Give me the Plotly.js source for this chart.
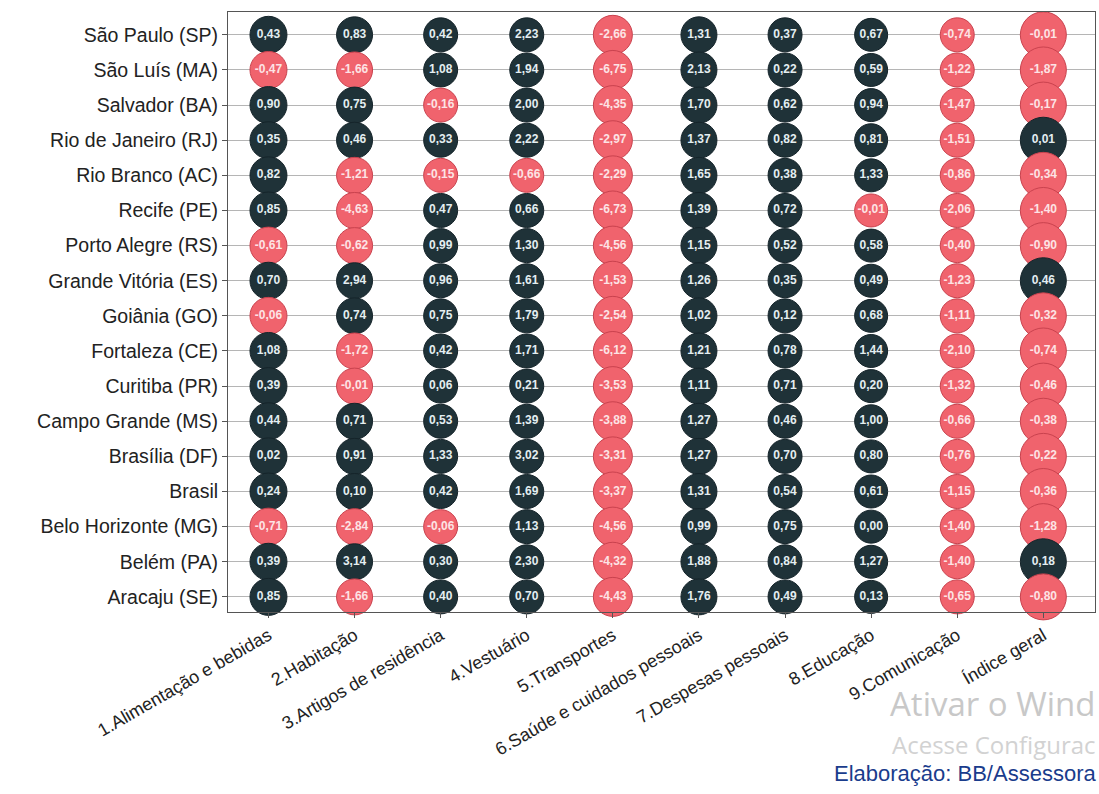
<!DOCTYPE html>
<html>
<head>
<meta charset="utf-8">
<script src="https://cdn.plot.ly/plotly-3.0.1.min.js"></script>
<style>html,body{margin:0;padding:0;background:#fff;}</style>
</head>
<body>
<div id="chart" style="width:1099px;height:794px;"></div>
<script>
const cities = ["São Paulo (SP)","São Luís (MA)","Salvador (BA)","Rio de Janeiro (RJ)","Rio Branco (AC)","Recife (PE)","Porto Alegre (RS)","Grande Vitória (ES)","Goiânia (GO)","Fortaleza (CE)","Curitiba (PR)","Campo Grande (MS)","Brasília (DF)","Brasil","Belo Horizonte (MG)","Belém (PA)","Aracaju (SE)"];
const groups = ["1.Alimentação e bebidas","2.Habitação","3.Artigos de residência","4.Vestuário","5.Transportes","6.Saúde e cuidados pessoais","7.Despesas pessoais","8.Educação","9.Comunicação","Índice geral"];

const alimentacao = [0.43,-0.47,0.90,0.35,0.82,0.85,-0.61,0.70,-0.06,1.08,0.39,0.44,0.02,0.24,-0.71,0.39,0.85];
const habitacao   = [0.83,-1.66,0.75,0.46,-1.21,-4.63,-0.62,2.94,0.74,-1.72,-0.01,0.71,0.91,0.10,-2.84,3.14,-1.66];
const artigos     = [0.42,1.08,-0.16,0.33,-0.15,0.47,0.99,0.96,0.75,0.42,0.06,0.53,1.33,0.42,-0.06,0.30,0.40];
const vestuario   = [2.23,1.94,2.00,2.22,-0.66,0.66,1.30,1.61,1.79,1.71,0.21,1.39,3.02,1.69,1.13,2.30,0.70];
const transportes = [-2.66,-6.75,-4.35,-2.97,-2.29,-6.73,-4.56,-1.53,-2.54,-6.12,-3.53,-3.88,-3.31,-3.37,-4.56,-4.32,-4.43];
const saude       = [1.31,2.13,1.70,1.37,1.65,1.39,1.15,1.26,1.02,1.21,1.11,1.27,1.27,1.31,0.99,1.88,1.76];
const despesas    = [0.37,0.22,0.62,0.82,0.38,0.72,0.52,0.35,0.12,0.78,0.71,0.46,0.70,0.54,0.75,0.84,0.49];
const educacao    = [0.67,0.59,0.94,0.81,1.33,-0.01,0.58,0.49,0.68,1.44,0.20,1.00,0.80,0.61,0.00,1.27,0.13];
const comunicacao = [-0.74,-1.22,-1.47,-1.51,-0.86,-2.06,-0.40,-1.23,-1.11,-2.10,-1.32,-0.66,-0.76,-1.15,-1.40,-1.40,-0.65];
const indiceGeral = [-0.01,-1.87,-0.17,0.01,-0.34,-1.40,-0.90,0.46,-0.32,-0.74,-0.46,-0.38,-0.22,-0.36,-1.28,0.18,-0.80];

const series = [alimentacao,habitacao,artigos,vestuario,transportes,saude,despesas,educacao,comunicacao,indiceGeral];
const colSizes = [37,36,34,34,39,36,34,33,34,46];

const traces = series.map((vals, ci) => ({
  type: 'scatter',
  mode: 'markers+text',
  x: cities.map(() => groups[ci]),
  y: cities,
  text: vals.map(v => v.toFixed(2).replace('.', ',')),
  textposition: 'middle center',
  textfont: {family: 'Liberation Sans, Arial, sans-serif', size: 12, color: vals.map(v => v < 0 ? '#fde3e5' : '#e4eef1'), weight: 'bold'},
  marker: {
    size: colSizes[ci],
    color: vals.map(v => v < 0 ? '#f0636d' : '#1f3238'),
    line: {width: 1, color: vals.map(v => v < 0 ? '#c9424e' : '#15242a')},
    opacity: 1
  },
  cliponaxis: false,
  hoverinfo: 'skip',
  showlegend: false
}));

const px = v => (v - 228) / 867;
const py = v => (612 - v) / 600;

const layout = {
  width: 1099, height: 794,
  margin: {l: 228, r: 4, t: 12, b: 182},
  paper_bgcolor: '#ffffff', plot_bgcolor: '#ffffff',
  font: {family: 'Liberation Sans, Arial, sans-serif', color: '#222'},
  xaxis: {
    type: 'category', categoryarray: groups, categoryorder: 'array',
    range: [-0.47, 9.6],
    tickangle: -30,
    tickfont: {size: 18, color: '#222'},
    ticks: 'outside', ticklen: 5, tickcolor: '#555',
    showgrid: false, zeroline: false,
    showline: true, linecolor: '#555', linewidth: 1, mirror: true
  },
  yaxis: {
    type: 'category', categoryarray: cities, categoryorder: 'array',
    range: [16.43, -0.65],
    tickfont: {size: 19.5, color: '#222'},
    ticks: 'outside', ticklen: 5, tickcolor: '#555',
    showgrid: true, gridcolor: '#b5b5b5', gridwidth: 1,
    zeroline: false,
    showline: true, linecolor: '#555', linewidth: 1, mirror: true
  },
  annotations: [
    {xref: 'paper', yref: 'paper', x: px(1098), y: py(703), xanchor: 'right', yanchor: 'middle',
     text: 'Ativar o Wind', showarrow: false, font: {family: 'Open Sans, sans-serif', size: 33, color: '#c8c8c8'}},
    {xref: 'paper', yref: 'paper', x: px(1098), y: py(744), xanchor: 'right', yanchor: 'middle',
     text: 'Acesse Configurac', showarrow: false, font: {family: 'Open Sans, sans-serif', size: 24, color: '#d2d2d2'}},
    {xref: 'paper', yref: 'paper', x: px(1098), y: py(773), xanchor: 'right', yanchor: 'middle',
     text: 'Elaboração: BB/Assessora', showarrow: false, font: {family: 'Liberation Sans, Arial, sans-serif', size: 22, color: '#1a3c8c'}}
  ]
};

Plotly.newPlot('chart', traces, layout, {displayModeBar: false, staticPlot: true});
</script>
</body>
</html>
